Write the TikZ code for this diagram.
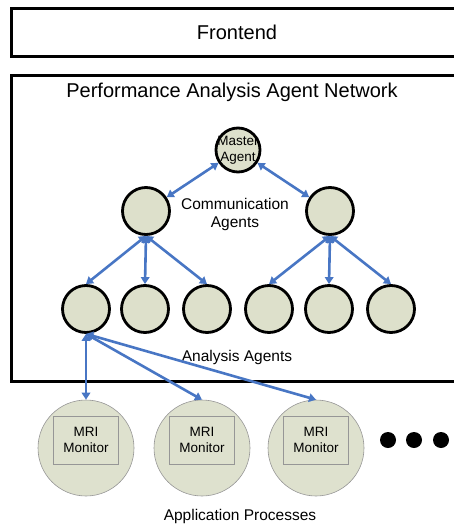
\documentclass[tikz,border=0pt]{standalone}
\usepackage{fontspec}
\setmainfont{Liberation Sans}
\usetikzlibrary{arrows.meta}
\definecolor{agentfill}{RGB}{221,224,203}
\definecolor{appfill}{RGB}{222,225,206}
\definecolor{arrowblue}{RGB}{72,118,196}
\definecolor{appgray}{RGB}{150,150,150}
\tikzset{
  frame/.style={draw=black, line width=3pt},
  agent/.style={circle, draw=black, line width=2.8pt, fill=agentfill, minimum size=47pt, inner sep=0pt},
  master/.style={circle, draw=black, line width=2.8pt, fill=agentfill, minimum size=44pt, inner sep=0pt},
  app/.style={circle, draw=appgray, line width=0.6pt, fill=appfill, minimum size=96pt, inner sep=0pt},
  mri/.style={draw=appgray, line width=0.8pt, fill=appfill, minimum width=65pt, minimum height=48pt, inner sep=0pt, align=center, font=\fontsize{13.5}{16}\selectfont},
  link/.style={draw=arrowblue, line width=2.6pt, {Triangle[length=7pt,width=8.5pt]}-{Triangle[length=7pt,width=8.5pt]}},
  lbl/.style={align=center, inner sep=0pt},
  dot/.style={circle, fill=black, minimum size=16pt, inner sep=0pt}
}
\begin{document}
\begin{tikzpicture}[x=1pt, y=-1pt]
\useasboundingbox (0,0) rectangle (454,525);
\clip (0,0) rectangle (454,525);
% Frontend box
\draw[frame] (11,8) rectangle (480,56);
\node[lbl, font=\fontsize{20}{24}\selectfont] (fe) at (237,32) {Frontend};
% Network box
\draw[frame] (11,75) rectangle (480,381);
\node[lbl, font=\fontsize{20}{24}\selectfont] (title) at (232,92) {Performance Analysis Agent Network};
% agents
\node[master] (m) at (238,150) {};
\node[lbl, font=\fontsize{13.5}{16}\selectfont] (mtext) at (238,150) {Master\\Agent};
\node[agent] (c1) at (146,211) {};
\node[agent] (c2) at (330,211) {};
\node[lbl, font=\fontsize{15.5}{18}\selectfont] (ctext) at (235,214) {Communication\\Agents};
\node[agent] (a1) at (86,309) {};
\node[agent] (a2) at (145,309) {};
\node[agent] (a3) at (207,309) {};
\node[agent] (a4) at (269,309) {};
\node[agent] (a5) at (329,309) {};
\node[agent] (a6) at (391,309) {};
\node[lbl, font=\fontsize{15.5}{18}\selectfont] (atext) at (237,357) {Analysis Agents};
% application processes
\foreach \i/\x in {1/86,2/202,3/316}{
  \node[app] (p\i) at (\x,448) {};
  \node[mri] (r\i) at (\x,440) {MRI\\Monitor};
}
\node[dot] (d1) at (388,440) {};
\node[dot] (d2) at (414,440) {};
\node[dot] (d3) at (441,440) {};
\node[lbl, font=\fontsize{15.5}{18}\selectfont] (ptext) at (240,516) {Application Processes};
% links
\draw[link] (m) -- (c1);
\draw[link] (m) -- (c2);
\draw[link] (c1.south) -- (a1.north);
\draw[link] (c1.south) -- (a2.north);
\draw[link] (c1.south) -- (a3.north);
\draw[link] (c2.south) -- (a4.north);
\draw[link] (c2.south) -- (a5.north);
\draw[link] (c2.south) -- (a6.north);
\draw[link] (a1.south) -- (p1.north);
\draw[link] (a1.south) -- (p2.north);
\draw[link] (a1.south) -- (p3.north);
\end{tikzpicture}
\end{document}
